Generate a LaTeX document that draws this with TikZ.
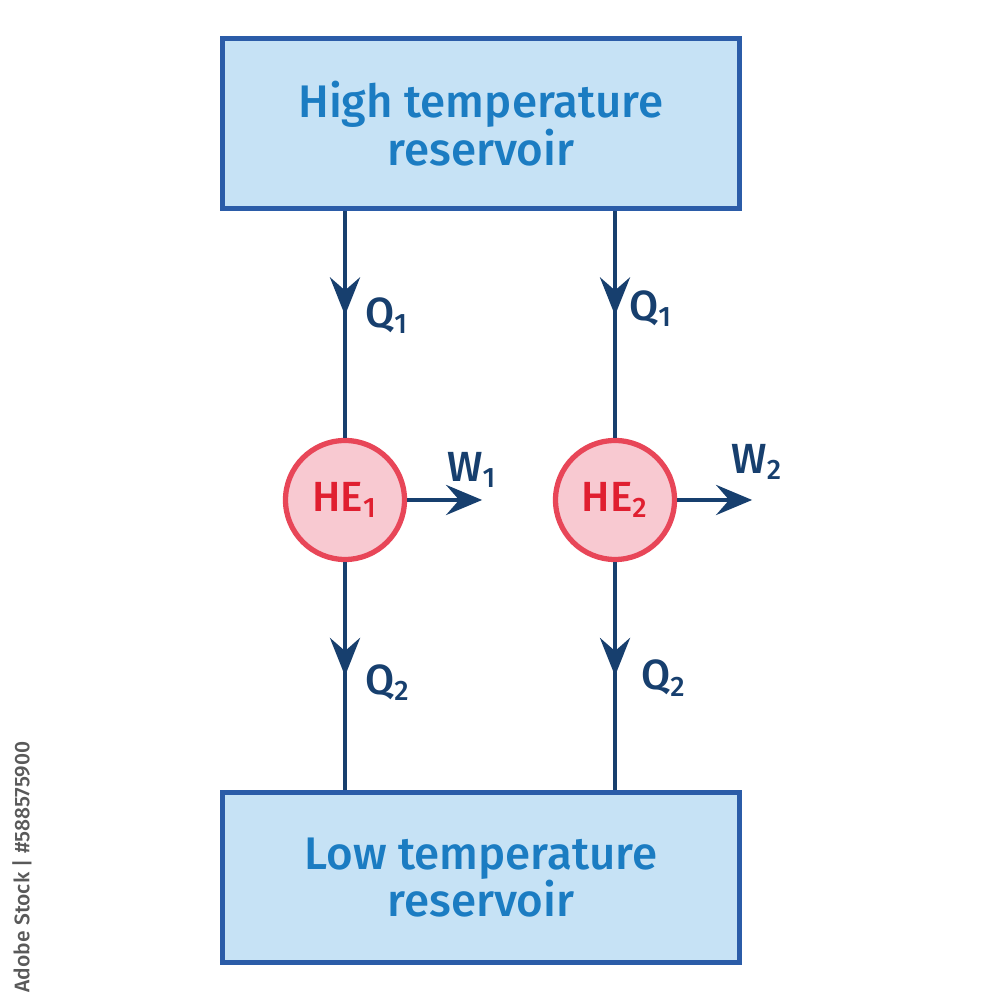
\documentclass[tikz,border=0pt]{standalone}
\usepackage{fontspec}
\setmainfont{Fira Sans}[UprightFont=* Medium]
\usetikzlibrary{arrows.meta,positioning,calc,decorations.markings}

\definecolor{boxfill}{HTML}{C6E2F5}
\definecolor{boxline}{HTML}{2B5CA8}
\definecolor{boxtext}{HTML}{1B7CC2}
\definecolor{flow}{HTML}{173F6E}
\definecolor{hefill}{HTML}{F8C9D1}
\definecolor{heline}{HTML}{E84658}
\definecolor{hetext}{HTML}{E01F30}

\tikzset{
  reservoir/.style={draw=boxline, fill=boxfill, line width=1.5pt, minimum width=5.17cm,
    minimum height=1.7cm, align=center, text=boxtext, font=\fontsize{13}{13.5}\selectfont},
  engine/.style={circle, draw=heline, fill=hefill, line width=1.5pt, minimum size=1.19cm,
    inner sep=0pt, text=hetext, font=\fontsize{12}{12}\selectfont},
  heat/.style={draw=flow, line width=1.4pt, postaction={decorate},
    decoration={markings, mark=at position #1 with {\arrow{Stealth[length=3.8mm,width=3mm,inset=1.3mm]}}}},
  heat/.default=0.5,
  work/.style={draw=flow, line width=1.4pt, -{Stealth[length=3.6mm,width=3mm,inset=1.3mm]}},
  flowlabel/.style={text=flow, font=\fontsize{12}{12}\selectfont}
}

\begin{document}
\begin{tikzpicture}
    \useasboundingbox (0,0) rectangle (10,10);

    % Reservoirs
    \node[reservoir] (hot) at (4.81,8.765) {High temperature\\reservoir};
    \node[reservoir] (cold) at (4.81,1.225) {Low temperature\\reservoir};

    % Heat engines
    \node[engine] (he1) at (3.45,5.0) {HE\textsubscript{1}};
    \node[engine] (he2) at (6.15,5.0) {HE\textsubscript{2}};

    % Heat flows
    \draw[heat=0.46] (he1 |- hot.south) -- (he1.north)
        node[pos=0.46, flowlabel, anchor=west, xshift=0.6mm] (q1a) {Q\textsubscript{1}};
    \draw[heat=0.46] (he2 |- hot.south) -- (he2.north)
        node[pos=0.43, flowlabel, anchor=west, xshift=0mm] (q1b) {Q\textsubscript{1}};
    \draw[heat] (he1.south) -- (he1 |- cold.north)
        node[pos=0.53, flowlabel, anchor=west, xshift=0.6mm] (q2a) {Q\textsubscript{2}};
    \draw[heat] (he2.south) -- (he2 |- cold.north)
        node[pos=0.51, flowlabel, anchor=west, xshift=1.2mm] (q2b) {Q\textsubscript{2}};

    % Work out
    \coordinate[right=0.75cm of he1.east] (w1);
    \coordinate[right=0.75cm of he2.east] (w2);
    \draw[work] (he1.east) -- (w1);
    \draw[work] (he2.east) -- (w2);
    \node[flowlabel] (w1lab) at ($(w1)+(-0.1,0.3)$) {W\textsubscript{1}};
    \node[flowlabel] (w2lab) at ($(w2)+(0.05,0.38)$) {W\textsubscript{2}};

    % Stock tag
    \node[rotate=90, text=black!65, font=\fontsize{6}{6}\selectfont] (stock) at (0.22,1.33) {Adobe Stock | \#588575900};
\end{tikzpicture}
\end{document}
